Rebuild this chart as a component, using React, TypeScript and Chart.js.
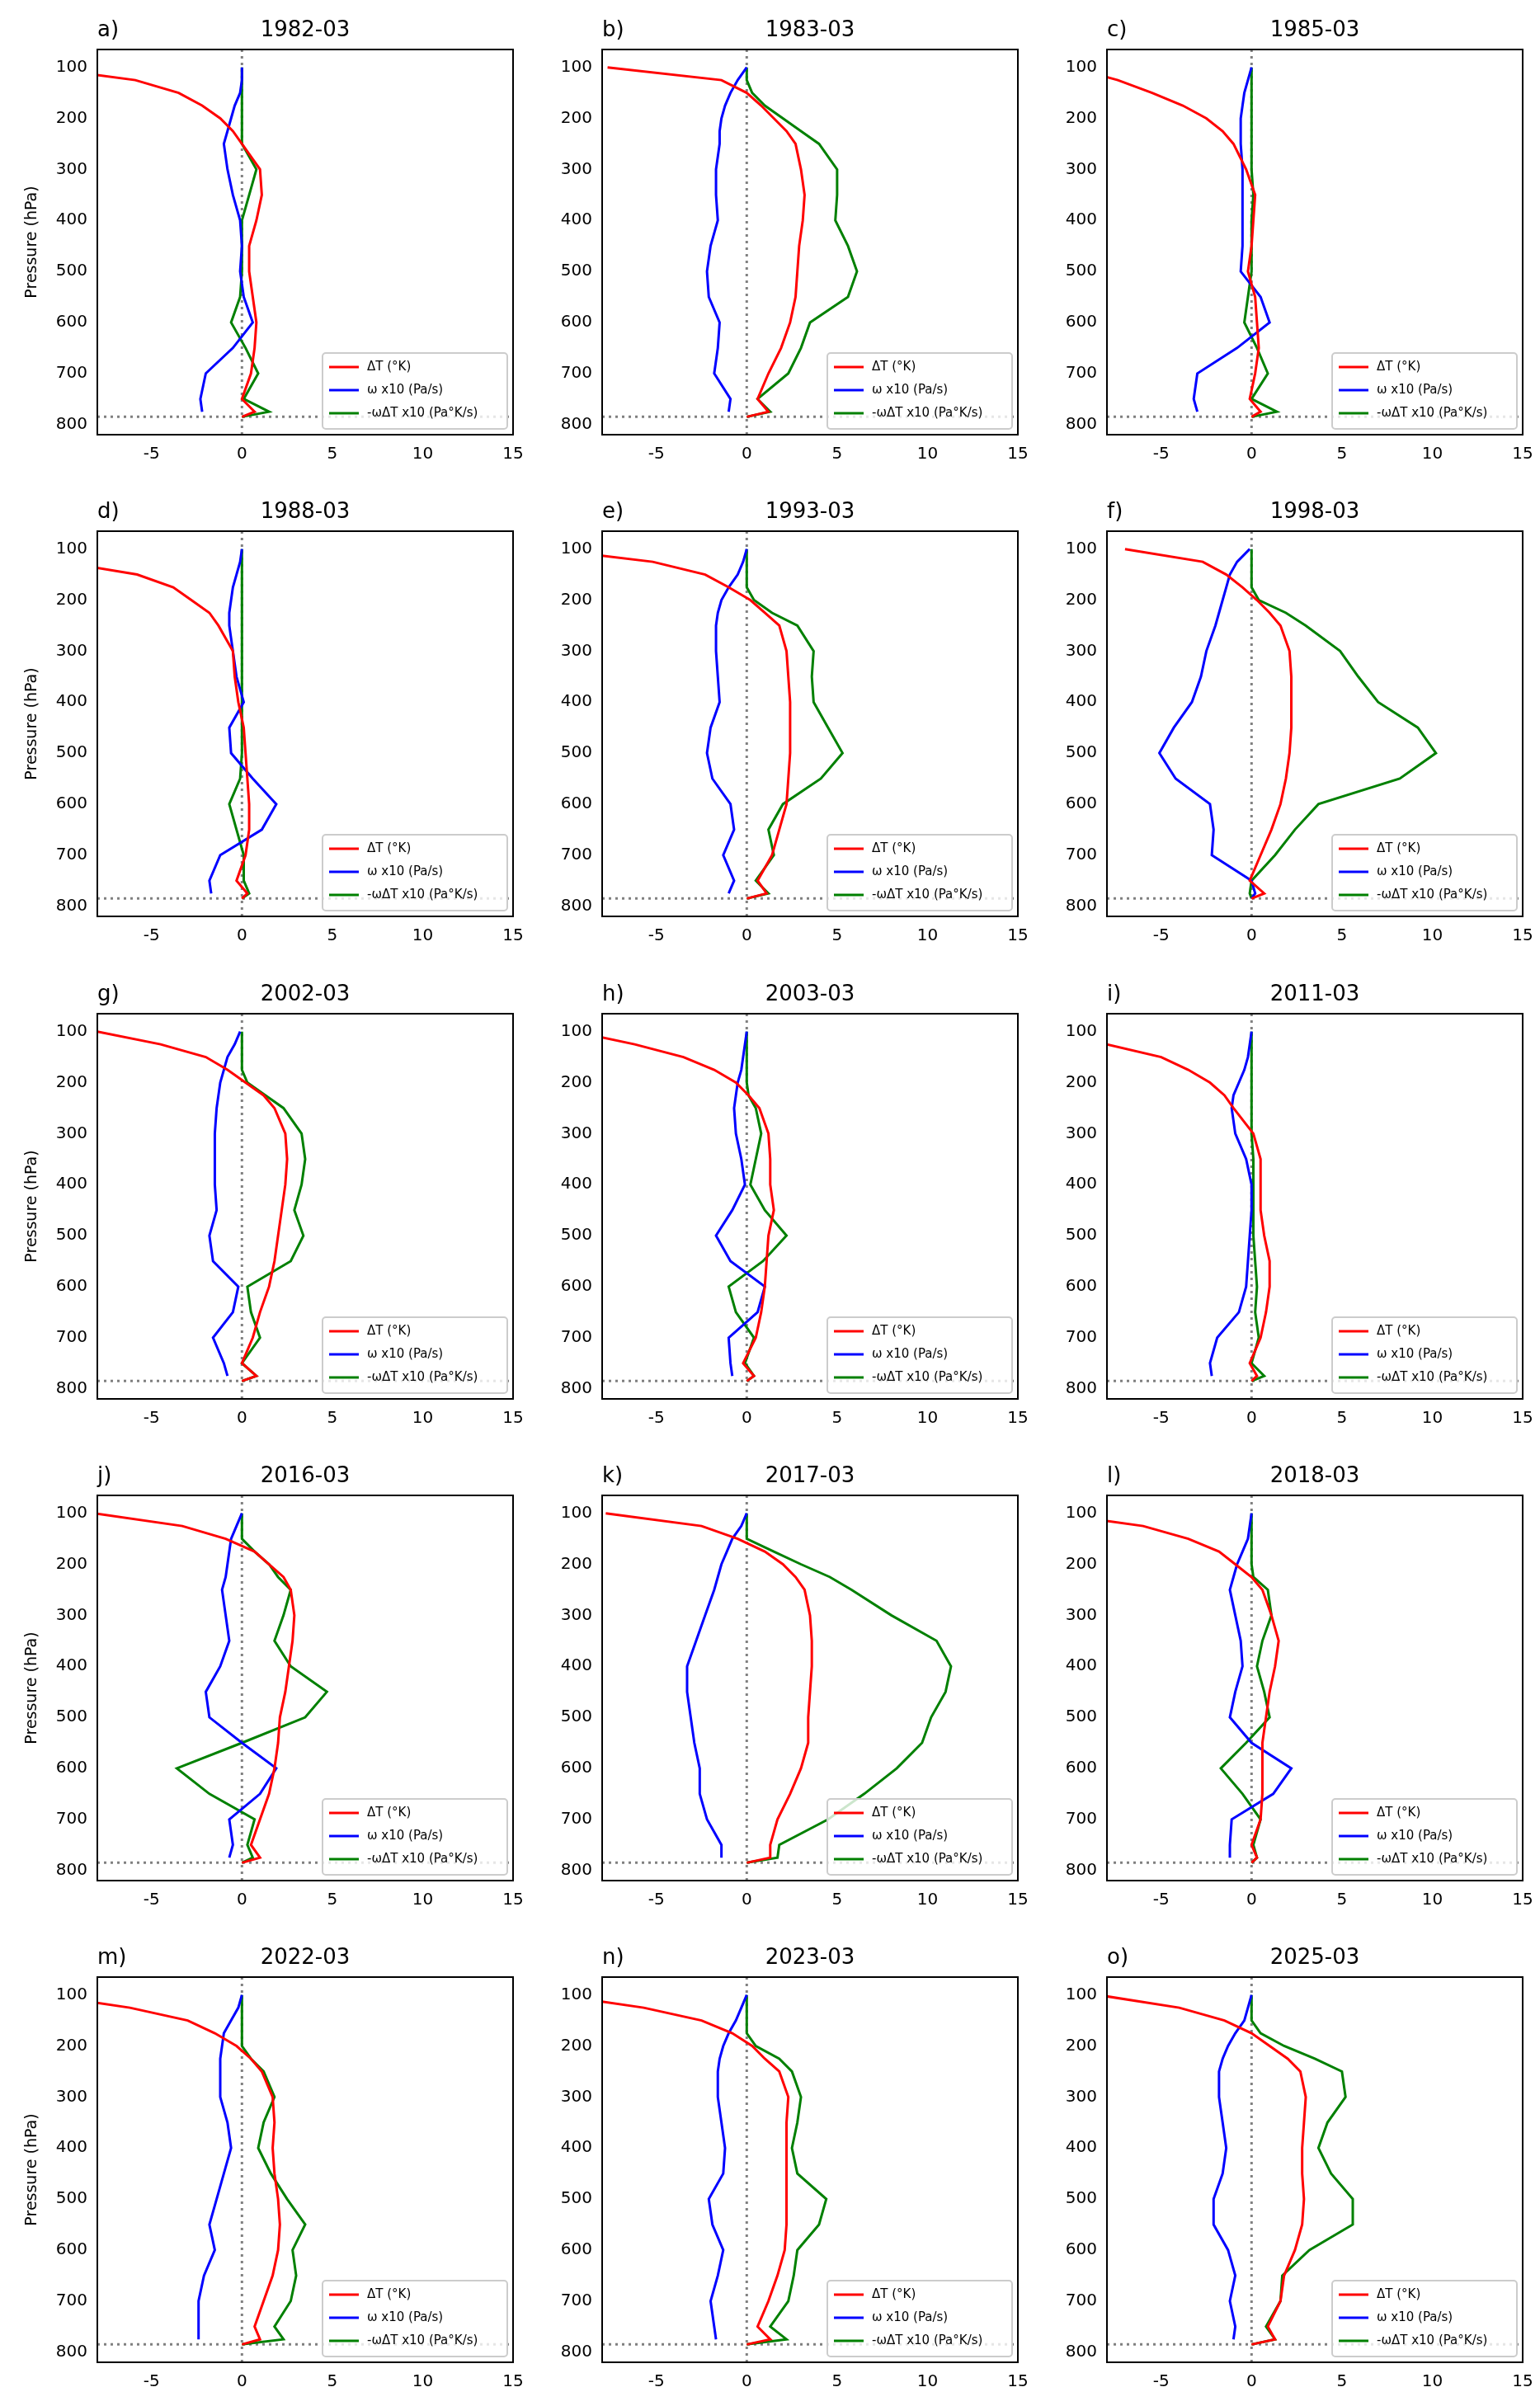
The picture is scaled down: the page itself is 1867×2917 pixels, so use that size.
import React, { useEffect, useRef } from "react";
import { Chart, registerables } from "chart.js";
Chart.register(...registerables);

const levels = [100, 125, 150, 175, 200, 225, 250, 300, 350, 400, 450, 500, 550, 600, 650, 700, 750, 775, 785];
const surfaceP = 785;
const xTicks = [-5, 0, 5, 10, 15];
const yTicks = [100, 200, 300, 400, 500, 600, 700, 800];
const panelLetters = ["a)", "b)", "c)", "d)", "e)", "f)", "g)", "h)", "i)", "j)", "k)", "l)", "m)", "n)", "o)"];
const panelDates = ["1982-03", "1983-03", "1985-03", "1988-03", "1993-03", "1998-03", "2002-03", "2003-03", "2011-03", "2016-03", "2017-03", "2018-03", "2022-03", "2023-03", "2025-03"];
const seriesLabels = ["ΔT (°K)", "ω x10 (Pa/s)", "-ωΔT x10 (Pa°K/s)"];

const dT = [
  [-11.2, -5.9, -3.5, -2.2, -1.2, -0.5, 0, 1.0, 1.1, 0.8, 0.4, 0.4, 0.6, 0.8, 0.7, 0.5, 0, 0.7, 0],
  [-7.7, -1.4, 0, 0.8, 1.5, 2.2, 2.7, 3.0, 3.2, 3.1, 2.9, 2.8, 2.7, 2.4, 1.9, 1.2, 0.6, 1.2, 0],
  [-10, -7.4, -5.5, -3.8, -2.5, -1.6, -1.0, -0.3, 0.2, 0.1, 0, -0.2, 0.2, 0.3, 0.4, 0.2, -0.1, 0.5, 0],
  [-16, -10, -5.8, -3.8, -2.8, -1.8, -1.3, -0.5, -0.4, -0.2, 0.1, 0.2, 0.3, 0.4, 0.4, 0.2, -0.3, 0.3, 0],
  [-11, -5.2, -2.3, -1.0, 0.2, 1.0, 1.8, 2.2, 2.3, 2.4, 2.4, 2.4, 2.3, 2.2, 1.8, 1.4, 0.6, 1.1, 0],
  [-7.0, -2.7, -1.4, -0.5, 0.3, 1.0, 1.6, 2.1, 2.2, 2.2, 2.2, 2.1, 1.9, 1.6, 1.1, 0.5, -0.1, 0.7, 0],
  [-8.0, -4.5, -2.0, -0.8, 0.2, 1.2, 1.8, 2.4, 2.5, 2.4, 2.2, 2.0, 1.8, 1.5, 1.0, 0.6, 0, 0.8, 0],
  [-9.5, -6.2, -3.5, -1.8, -0.6, 0.1, 0.7, 1.2, 1.3, 1.3, 1.5, 1.2, 1.1, 1.0, 0.8, 0.5, -0.2, 0.4, 0],
  [-14, -8, -5.0, -3.5, -2.3, -1.5, -1.0, 0.1, 0.5, 0.5, 0.5, 0.7, 1.0, 1.0, 0.8, 0.5, -0.1, 0.3, 0],
  [-8.2, -3.3, -0.9, 0.7, 1.5, 2.3, 2.7, 2.9, 2.8, 2.6, 2.4, 2.1, 2.0, 1.8, 1.5, 1.0, 0.5, 1.0, 0],
  [-7.8, -2.5, -0.5, 1.0, 2.0, 2.7, 3.2, 3.5, 3.6, 3.6, 3.5, 3.4, 3.4, 3.0, 2.4, 1.7, 1.3, 1.3, 0],
  [-11, -6.0, -3.5, -1.8, -0.9, 0, 0.6, 1.1, 1.5, 1.3, 1.0, 0.8, 0.6, 0.6, 0.6, 0.5, 0, 0.3, 0],
  [-11, -6.2, -3.0, -1.5, -0.3, 0.5, 1.1, 1.7, 1.8, 1.7, 1.8, 2.0, 2.1, 2.0, 1.7, 1.2, 0.7, 1.0, 0],
  [-10.5, -5.7, -2.5, -0.8, 0.3, 1.0, 1.8, 2.3, 2.2, 2.2, 2.2, 2.2, 2.2, 2.1, 1.7, 1.2, 0.6, 1.3, 0],
  [-8.5, -4.0, -1.5, 0, 1.0, 2.0, 2.7, 3.0, 2.9, 2.8, 2.8, 2.9, 2.8, 2.4, 1.8, 1.6, 0.9, 1.3, 0],
];

const omega = [
  [0, 0, -0.1, -0.4, -0.6, -0.8, -1.0, -0.8, -0.5, -0.1, 0, -0.1, 0.1, 0.6, -0.5, -2.0, -2.3, -2.2, null],
  [0, -0.5, -0.9, -1.2, -1.4, -1.5, -1.5, -1.7, -1.7, -1.6, -2.0, -2.2, -2.1, -1.5, -1.6, -1.8, -0.9, -1.0, null],
  [0, -0.2, -0.4, -0.5, -0.6, -0.6, -0.6, -0.5, -0.5, -0.5, -0.5, -0.6, 0.5, 1.0, -0.8, -3.0, -3.2, -3.0, null],
  [0, -0.1, -0.3, -0.5, -0.6, -0.7, -0.7, -0.5, -0.3, 0.1, -0.7, -0.6, 0.6, 1.9, 1.1, -1.2, -1.8, -1.7, null],
  [0, -0.2, -0.5, -1.0, -1.4, -1.6, -1.7, -1.7, -1.6, -1.5, -2.0, -2.2, -1.9, -0.9, -0.7, -1.3, -0.7, -1.0, null],
  [-0.1, -0.8, -1.2, -1.4, -1.6, -1.8, -2.0, -2.5, -2.8, -3.3, -4.3, -5.1, -4.2, -2.3, -2.1, -2.2, 0, 0.2, 0],
  [-0.1, -0.4, -0.8, -1.0, -1.2, -1.3, -1.4, -1.5, -1.5, -1.5, -1.4, -1.8, -1.6, -0.2, -0.5, -1.6, -1.0, -0.8, null],
  [0, -0.1, -0.2, -0.3, -0.5, -0.6, -0.7, -0.6, -0.3, -0.1, -0.8, -1.7, -0.9, 1.0, 0.6, -1.0, -0.9, -0.8, null],
  [0, -0.1, -0.2, -0.4, -0.7, -1.0, -1.1, -0.9, -0.3, 0, 0, -0.1, -0.2, -0.3, -0.7, -1.9, -2.3, -2.2, null],
  [0, -0.3, -0.6, -0.7, -0.8, -0.9, -1.1, -0.9, -0.7, -1.2, -2.0, -1.8, 0, 1.9, 1.0, -0.7, -0.5, -0.7, null],
  [0, -0.3, -0.8, -1.1, -1.4, -1.6, -1.8, -2.3, -2.8, -3.3, -3.3, -3.1, -2.9, -2.6, -2.6, -2.2, -1.4, -1.4, null],
  [0, -0.1, -0.2, -0.5, -0.8, -1.0, -1.2, -0.9, -0.6, -0.5, -0.9, -1.2, 0, 2.2, 1.2, -1.1, -1.2, -1.2, null],
  [0, -0.2, -0.6, -1.0, -1.1, -1.2, -1.2, -1.2, -0.8, -0.6, -1.0, -1.4, -1.8, -1.5, -2.1, -2.4, -2.4, -2.4, null],
  [0, -0.3, -0.6, -1.0, -1.3, -1.5, -1.6, -1.6, -1.4, -1.2, -1.3, -2.1, -1.9, -1.3, -1.6, -2.0, -1.8, -1.7, null],
  [0, -0.2, -0.4, -0.9, -1.3, -1.6, -1.8, -1.8, -1.6, -1.4, -1.6, -2.1, -2.1, -1.3, -0.9, -1.2, -0.9, -1.0, null],
];

const flux = [
  [0, 0, 0, 0, 0, 0, 0, 0.8, 0.4, 0, 0, 0, -0.1, -0.6, 0.2, 0.9, 0.1, 1.5, 0],
  [0, 0, 0.3, 1.0, 2.0, 3.0, 4.0, 5.0, 5.0, 4.9, 5.6, 6.1, 5.6, 3.5, 3.0, 2.3, 0.6, 1.3, 0],
  [0, 0, 0, 0, 0, 0, 0, 0, 0.1, 0, 0, 0, -0.2, -0.4, 0.3, 0.9, 0, 1.4, 0],
  [0, 0, 0, 0, 0, 0, 0, 0, 0, 0, 0, 0, -0.1, -0.7, -0.3, 0.1, 0.1, 0.4, 0],
  [0, 0, 0, 0, 0.4, 1.4, 2.8, 3.7, 3.6, 3.7, 4.5, 5.3, 4.1, 2.0, 1.2, 1.5, 0.5, 1.2, 0],
  [0, 0, 0, 0, 0.4, 1.9, 3.0, 4.9, 5.9, 7.0, 9.2, 10.2, 8.2, 3.7, 2.4, 1.3, 0, -0.1, 0],
  [0, 0, 0, 0, 0.3, 1.3, 2.3, 3.3, 3.5, 3.3, 2.9, 3.4, 2.7, 0.3, 0.5, 1.0, 0, 0.8, 0],
  [0, 0, 0, 0, 0, 0.1, 0.5, 0.8, 0.5, 0.2, 1.0, 2.2, 0.9, -1.0, -0.6, 0.4, -0.1, 0.4, 0],
  [0, 0, 0, 0, 0, 0, 0, 0, 0.1, 0.1, 0.1, 0.1, 0.2, 0.3, 0.2, 0.4, 0, 0.7, 0],
  [0, 0, 0, 0.7, 1.5, 2.0, 2.7, 2.3, 1.8, 2.7, 4.7, 3.5, 0, -3.6, -1.8, 0.7, 0.3, 0.6, 0],
  [0, 0, 0, 1.5, 3.0, 4.6, 5.8, 8.0, 10.5, 11.3, 11.0, 10.2, 9.7, 8.3, 6.5, 4.5, 1.8, 1.7, 0],
  [0, 0, 0, 0, 0, 0.1, 0.9, 1.1, 0.6, 0.3, 0.7, 1.0, -0.3, -1.7, -0.5, 0.5, 0.1, 0.3, 0],
  [0, 0, 0, 0, 0, 0.5, 1.2, 1.8, 1.2, 0.9, 1.6, 2.5, 3.5, 2.8, 3.0, 2.7, 1.8, 2.3, 0],
  [0, 0, 0, 0, 0.5, 1.8, 2.5, 3.0, 2.8, 2.5, 2.8, 4.4, 4.0, 2.8, 2.6, 2.3, 1.3, 2.2, 0],
  [0, 0, 0, 0.5, 1.8, 3.5, 5.0, 5.2, 4.2, 3.7, 4.4, 5.6, 5.6, 3.2, 1.7, 1.6, 0.8, 1.3, 0],
];

const colors = ["#ff0000", "#0000ff", "#008000"];
const FONT = "DejaVu Sans";
const PLOT_W = 504;
const PLOT_H = 467;
const Y_AXIS_W = 90;
const X_AXIS_H = 50;
const TOP_PAD = 60;
const RIGHT_PAD = 20;

function toPts(vals: (number | null)[]) {
  return levels.map((p, i) => ({ x: vals[i], y: p })).filter((d) => d.x !== null);
}

function Panel({ idx, left, top }: { idx: number; left: number; top: number }) {
  const ref = useRef<HTMLCanvasElement>(null);
  const W = Y_AXIS_W + PLOT_W + RIGHT_PAD;
  const H = TOP_PAD + PLOT_H + X_AXIS_H;
  useEffect(() => {
    const showYLabel = idx % 3 === 0;
    const overlay = {
      id: "overlay",
      beforeDatasetsDraw(chart: any) {
        const { ctx, chartArea: a, scales } = chart;
        ctx.save();
        ctx.strokeStyle = "#808080";
        ctx.lineWidth = 3;
        ctx.setLineDash([3, 5]);
        const x0 = scales.x.getPixelForValue(0);
        ctx.beginPath();
        ctx.moveTo(x0, a.top);
        ctx.lineTo(x0, a.bottom);
        ctx.stroke();
        const ys = scales.y.getPixelForValue(surfaceP);
        ctx.beginPath();
        ctx.moveTo(a.left, ys);
        ctx.lineTo(a.right, ys);
        ctx.stroke();
        ctx.restore();
      },
      afterDraw(chart: any) {
        const { ctx, chartArea: a } = chart;
        ctx.save();
        ctx.fillStyle = "#000";
        ctx.font = `26px ${FONT}`;
        ctx.textBaseline = "bottom";
        ctx.textAlign = "left";
        ctx.fillText(panelLetters[idx], a.left, a.top - 10);
        ctx.textAlign = "center";
        ctx.fillText(panelDates[idx], (a.left + a.right) / 2, a.top - 10);
        const lw = 224, lh = 92;
        const lx = a.right - lw - 7, ly = a.bottom - lh - 7;
        ctx.fillStyle = "rgba(255,255,255,0.8)";
        ctx.strokeStyle = "#cccccc";
        ctx.lineWidth = 2;
        ctx.beginPath();
        ctx.roundRect(lx, ly, lw, lh, 4);
        ctx.fill();
        ctx.stroke();
        ctx.font = `15px ${FONT}`;
        ctx.textAlign = "left";
        ctx.textBaseline = "middle";
        seriesLabels.forEach((s, i) => {
          const yy = ly + 17 + i * 28;
          ctx.strokeStyle = colors[i];
          ctx.lineWidth = 3;
          ctx.beginPath();
          ctx.moveTo(lx + 8, yy);
          ctx.lineTo(lx + 44, yy);
          ctx.stroke();
          ctx.fillStyle = "#000";
          ctx.fillText(s, lx + 54, yy);
        });
        ctx.strokeStyle = "#000";
        ctx.lineWidth = 2;
        ctx.strokeRect(a.left, a.top, a.right - a.left, a.bottom - a.top);
        ctx.restore();
      },
    };
    const chart = new Chart(ref.current!, {
      type: "scatter",
      data: {
        datasets: [dT[idx], omega[idx], flux[idx]].map((v, i) => ({
          label: seriesLabels[i],
          data: toPts(v),
          showLine: true,
          borderColor: colors[i],
          backgroundColor: colors[i],
          borderWidth: 3,
          pointRadius: 0,
          tension: 0,
        })),
      },
      options: {
        animation: false,
        responsive: false,
        devicePixelRatio: 1,
        layout: { padding: { top: TOP_PAD, right: RIGHT_PAD, left: 0, bottom: 0 } },
        plugins: { legend: { display: false }, tooltip: { enabled: false } },
        scales: {
          x: {
            type: "linear",
            min: -8,
            max: 15,
            grid: { display: false, drawTicks: true, tickLength: 8, tickColor: "#000" } as any,
            border: { color: "#000", width: 2 },
            ticks: { color: "#000", font: { family: FONT, size: 20 }, padding: 4, maxRotation: 0 },
            afterBuildTicks: (s: any) => { s.ticks = xTicks.map((v) => ({ value: v })); },
            afterFit: (s: any) => { s.height = X_AXIS_H; },
          },
          y: {
            type: "linear",
            reverse: true,
            min: 65,
            max: 820,
            grid: { display: false, drawTicks: true, tickLength: 8, tickColor: "#000" } as any,
            border: { color: "#000", width: 2 },
            ticks: { color: "#000", font: { family: FONT, size: 20 }, padding: 4 },
            title: { display: showYLabel, text: "Pressure (hPa)", color: "#000", font: { family: FONT, size: 19 }, padding: 0 },
            afterBuildTicks: (s: any) => { s.ticks = yTicks.map((v) => ({ value: v })); },
            afterFit: (s: any) => { s.width = Y_AXIS_W; },
          },
        } as any,
      },
      plugins: [overlay],
    });
    return () => chart.destroy();
  }, [idx]);
  return (
    <div style={{ position: "absolute", left: left - Y_AXIS_W, top: top - TOP_PAD, width: W, height: H }}>
      <canvas ref={ref} width={W} height={H} style={{ width: W, height: H, display: "block" }} />
    </div>
  );
}

const colLefts = [118, 730, 1342];
const rowTops = [60, 644, 1229, 1813, 2397];

export default function App() {
  return (
    <div style={{ position: "absolute", left: 0, top: 0, width: 1867, height: 2917, background: "#fff" }}>
      {panelDates.map((_, i) => (
        <Panel key={i} idx={i} left={colLefts[i % 3]} top={rowTops[Math.floor(i / 3)]} />
      ))}
    </div>
  );
}
